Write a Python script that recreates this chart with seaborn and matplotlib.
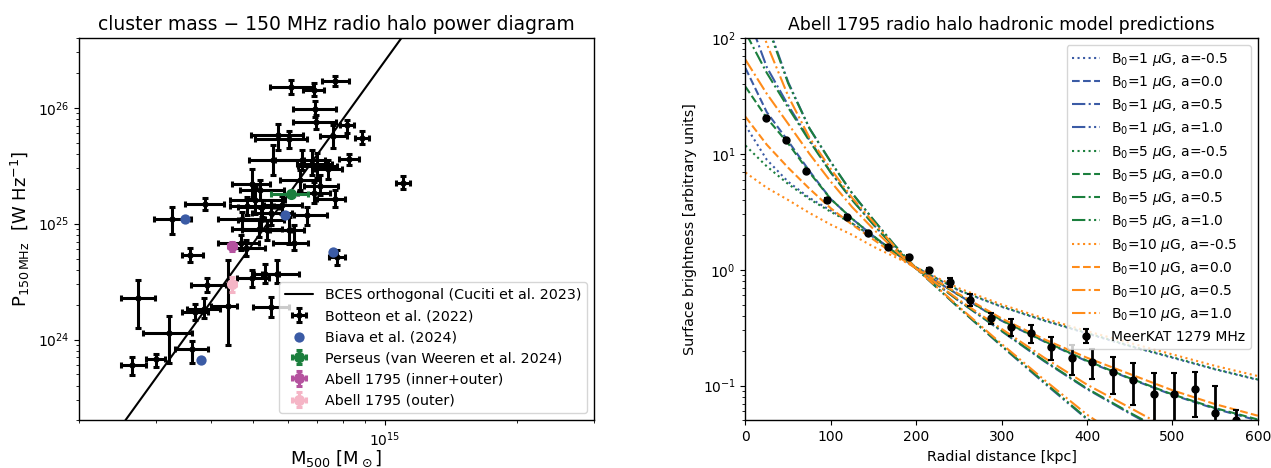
import numpy as np
import matplotlib
matplotlib.use("Agg")
import matplotlib.pyplot as plt
import seaborn as sns

# ---------------- Left panel data ----------------
# M500 in units of 1e14 Msun, P150 in units of 1e24 W/Hz
botteon_m500 = [7.70, 6.10, 6.89, 6.93, 6.95, 8.19, 7.59, 8.86, 5.69, 6.02,
                8.26, 5.56, 6.46, 6.81, 7.41, 10.98, 7.70, 3.88, 3.26, 3.58,
                2.73, 3.21, 3.62, 3.00, 2.64, 3.92, 3.68, 3.85, 4.37, 4.96,
                5.32, 5.66, 5.49, 7.76, 4.82, 4.69, 4.96, 6.63, 4.71, 5.14,
                5.37, 6.02, 5.05, 5.23, 4.85, 6.18, 6.88, 7.11, 5.20, 5.48,
                6.99, 5.18, 5.81, 6.39]
botteon_m500_elo = [0.52, 0.65, 0.40, 0.77, 0.79, 0.29, 0.50, 0.33, 0.75, 0.97,
                    0.43, 0.66, 0.85, 0.52, 0.48, 0.37, 0.70, 0.39, 0.30, 0.15,
                    0.23, 0.41, 0.30, 0.15, 0.14, 0.32, 0.25, 0.33, 0.37, 0.38,
                    0.31, 0.43, 0.49, 0.33, 0.38, 0.53, 0.49, 0.45, 0.55, 0.67,
                    0.66, 0.56, 0.62, 0.61, 0.43, 0.64, 0.57, 0.58, 0.59, 0.52,
                    0.67, 0.52, 0.52, 0.64]
botteon_m500_ehi = [0.56, 0.73, 0.38, 0.81, 0.79, 0.29, 0.60, 0.35, 0.80, 0.61,
                    0.45, 0.96, 0.84, 0.75, 0.56, 0.45, 0.41, 0.40, 0.34, 0.26,
                    0.25, 0.41, 0.32, 0.14, 0.21, 0.41, 0.27, 0.35, 0.21, 0.46,
                    0.39, 0.69, 0.53, 0.35, 0.49, 0.45, 0.50, 0.74, 0.61, 0.67,
                    0.75, 0.50, 0.86, 0.48, 0.72, 0.48, 0.62, 0.69, 0.67, 0.64,
                    0.77, 0.69, 0.65, 0.71]
botteon_p150 = [169.6, 150.5, 143.0, 98.0, 75.1, 70.4, 56.6, 55.1, 57.7, 53.3,
                35.8, 35.1, 35.6, 32.9, 29.8, 22.6, 16.4, 14.9, 10.9, 5.33,
                2.28, 1.13, 0.825, 0.676, 0.600, 2.98, 1.73, 1.85, 1.94, 3.40,
                3.71, 3.71, 1.91, 5.15, 6.18, 6.83, 22.1, 11.8, 11.0, 9.06,
                8.75, 8.75, 15.9, 13.9, 14.2, 6.83, 18.4, 21.1, 10.8, 12.4,
                31.2, 19.4, 14.4, 23.6]
botteon_p150_elo = [17.0, 20.3, 17.8, 15.0, 9.2, 10.0, 11.4, 6.8, 14.9, 8.1,
                    4.0, 9.0, 6.8, 6.8, 5.4, 2.6, 2.5, 1.9, 2.84, 0.64,
                    1.02, 0.505, 0.197, 0.102, 0.108, 0.41, 0.26, 0.33, 1.05, 0.56,
                    0.66, 0.66, 0.34, 0.78, 0.93, 0.85, 5.7, 2.13, 1.94, 1.40,
                    1.57, 2.03, 3.7, 2.5, 2.4, 0.94, 3.4, 3.6, 2.05, 2.73,
                    6.6, 3.5, 2.4, 4.2]
botteon_p150_ehi = [20.2, 23.8, 20.0, 15.3, 10.7, 8.4, 14.8, 7.8, 15.1, 9.6,
                    4.3, 12.2, 7.8, 9.9, 5.3, 3.0, 3.0, 1.7, 3.0, 0.85,
                    0.96, 0.47, 0.148, 0.081, 0.100, 0.42, 0.31, 0.41, 2.89, 0.56,
                    0.81, 1.12, 0.42, 0.74, 1.11, 1.22, 7.7, 2.1, 1.6, 1.94,
                    1.95, 2.65, 4.8, 2.0, 2.7, 2.84, 4.3, 5.0, 2.8, 3.5,
                    9.2, 4.2, 2.8, 5.2]

biava_m500 = [3.50, 5.91, 7.60, 3.80]
biava_p150 = [10.9, 11.95, 5.69, 0.672]

perseus_m500 = [6.09]
perseus_m500_err = [[0.60], [0.58]]
perseus_p150 = [18.1]
perseus_p150_err = [1.0]

a1795_all_m500 = [4.47]
a1795_all_m500_err = [0.09]
a1795_all_p150 = [6.41]
a1795_all_p150_err = [0.6]

a1795_out_m500 = [4.48]
a1795_out_m500_err = [0.09]
a1795_out_p150 = [3.04]
a1795_out_p150_err = [0.45]

# BCES orthogonal relation (Cuciti et al. 2023), end points in M500 [Msun], P150 [W/Hz]
bces_m500 = [2.55e14, 10.9e14]
bces_p150 = [2.0e23, 4.0e26]

# ---------------- Right panel data ----------------
radius = [0, 25, 50, 75, 100, 125, 150, 175, 200, 250, 300, 350, 400, 450, 500, 550, 600]
models = {
    (1, -0.5): [17.6, 8.9, 5.75, 4.17, 3.24, 2.51, 1.91, 1.41, 1.047, 0.661, 0.479, 0.363, 0.282, 0.219, 0.174, 0.138, 0.112],
    (1, 0.0): [55, 22.9, 12.9, 7.1, 4.07, 2.75, 1.95, 1.41, 1.023, 0.603, 0.363, 0.240, 0.162, 0.115, 0.0832, 0.0631, 0.050],
    (1, 0.5): [178, 56, 26.3, 13.2, 6.9, 4.0, 2.45, 1.55, 1.023, 0.537, 0.295, 0.162, 0.0933, 0.0575, 0.0363, 0.024, 0.0158],
    (1, 1.0): [501, 138, 41.7, 16.6, 8.5, 4.57, 2.69, 1.62, 1.023, 0.468, 0.219, 0.105, 0.0513, 0.0282, 0.0158, 0.0093, 0.0056],
    (5, -0.5): [11.8, 7.8, 5.5, 4.07, 3.16, 2.51, 1.91, 1.41, 1.047, 0.665, 0.482, 0.366, 0.285, 0.221, 0.176, 0.139, 0.113],
    (5, 0.0): [38, 20.4, 12.3, 6.9, 4.07, 2.75, 1.95, 1.41, 1.023, 0.605, 0.366, 0.242, 0.164, 0.116, 0.0840, 0.0640, 0.051],
    (5, 0.5): [112, 50, 25.1, 12.9, 6.9, 4.0, 2.45, 1.55, 1.023, 0.540, 0.298, 0.164, 0.0945, 0.0585, 0.0370, 0.0245, 0.0162],
    (5, 1.0): [447, 132, 40.7, 16.6, 8.5, 4.57, 2.69, 1.62, 1.023, 0.470, 0.221, 0.107, 0.0520, 0.0287, 0.0161, 0.0095, 0.0057],
    (10, -0.5): [6.9, 5.1, 4.0, 3.09, 2.45, 2.0, 1.58, 1.29, 1.047, 0.692, 0.501, 0.380, 0.295, 0.234, 0.186, 0.148, 0.121],
    (10, 0.0): [20.9, 12.0, 7.6, 5.0, 3.39, 2.45, 1.82, 1.35, 1.023, 0.617, 0.380, 0.251, 0.174, 0.126, 0.0912, 0.0692, 0.055],
    (10, 0.5): [65, 33, 18.2, 10, 5.75, 3.47, 2.24, 1.48, 1.023, 0.550, 0.309, 0.174, 0.102, 0.0646, 0.0407, 0.0269, 0.0182],
    (10, 1.0): [316, 89, 31.6, 13.8, 7.4, 4.17, 2.57, 1.58, 1.023, 0.479, 0.229, 0.112, 0.0562, 0.0316, 0.0182, 0.011, 0.0068],
}
b0_values = [1, 5, 10]
a_values = [-0.5, 0.0, 0.5, 1.0]

meerkat_r = [23.8, 47.6, 71, 95, 119, 143, 167, 191, 215, 239, 263, 287, 311, 335,
             358, 382, 406, 430, 454, 478, 502, 526, 550, 574]
meerkat_s = [20.5, 13.3, 7.05, 4.03, 2.87, 2.08, 1.58, 1.29, 1.0, 0.78, 0.55, 0.38,
             0.32, 0.285, 0.214, 0.174, 0.16, 0.131, 0.112, 0.085, 0.085, 0.093, 0.058, 0.05]
meerkat_err = [0.5, 0.4, 0.25, 0.15, 0.1, 0.07, 0.05, 0.05, 0.04, 0.065, 0.063, 0.04,
               0.053, 0.05, 0.048, 0.05, 0.046, 0.047, 0.044, 0.043, 0.043, 0.039, 0.042, 0.012]

# ---------------- Style ----------------
sns.set_style("ticks", {"axes.edgecolor": "black", "xtick.color": "black",
                        "ytick.color": "black", "axes.labelcolor": "black",
                        "text.color": "black"})
plt.rcParams["font.family"] = ["DejaVu Sans"]
plt.rcParams["mathtext.fontset"] = "dejavusans"
plt.rcParams["axes.linewidth"] = 1.0
plt.rcParams["xtick.direction"] = "out"
plt.rcParams["ytick.direction"] = "out"
plt.rcParams["xtick.major.size"] = 3.5
plt.rcParams["ytick.major.size"] = 3.5
plt.rcParams["xtick.minor.size"] = 2
plt.rcParams["ytick.minor.size"] = 2
plt.rcParams["xtick.labelsize"] = 10
plt.rcParams["ytick.labelsize"] = 10

C_BLUE = "#3b5ba5"
C_GREEN = "#1b7f3d"
C_ORANGE = "#ff8c1a"
C_MAGENTA = "#b5529f"
C_PINK = "#f5b5c6"

fig = plt.figure(figsize=(12.71, 4.68), dpi=100)
axL = fig.add_axes([0.0622, 0.1015, 0.4051, 0.8173])
axR = fig.add_axes([0.5865, 0.1015, 0.4031, 0.8173])

# ---------------- Left panel ----------------
E14, E24 = 1e14, 1e24
axL.set_xscale("log")
axL.set_yscale("log")

sns.lineplot(x=bces_m500, y=bces_p150, ax=axL, color="black", lw=1.5,
             estimator=None, sort=False, label="BCES orthogonal (Cuciti et al. 2023)")
line_bces = axL.lines[-1]

bm = np.array(botteon_m500) * E14
bp = np.array(botteon_p150) * E24
h_bot = axL.errorbar(bm, bp,
                     xerr=[np.array(botteon_m500_elo) * E14, np.array(botteon_m500_ehi) * E14],
                     yerr=[np.array(botteon_p150_elo) * E24, np.array(botteon_p150_ehi) * E24],
                     fmt="o", color="black", ms=3.5, elinewidth=2.2, capsize=2, capthick=2.2,
                     label="Botteon et al. (2022)", zorder=3)

sns.scatterplot(x=np.array(biava_m500) * E14, y=np.array(biava_p150) * E24, ax=axL,
                color=C_BLUE, s=55, linewidth=0, label="Biava et al. (2024)", zorder=4)
h_biava = axL.collections[-1]

h_per = axL.errorbar(np.array(perseus_m500) * E14, np.array(perseus_p150) * E24,
                     xerr=np.array(perseus_m500_err) * E14, yerr=np.array(perseus_p150_err) * E24,
                     fmt="o", color=C_GREEN, ms=7, elinewidth=2.2, capsize=2, capthick=2.2,
                     label="Perseus (van Weeren et al. 2024)", zorder=5)
h_all = axL.errorbar(np.array(a1795_all_m500) * E14, np.array(a1795_all_p150) * E24,
                     xerr=np.array(a1795_all_m500_err) * E14, yerr=np.array(a1795_all_p150_err) * E24,
                     fmt="o", color=C_MAGENTA, ms=7, elinewidth=2.2, capsize=2, capthick=2.2,
                     label="Abell 1795 (inner+outer)", zorder=5)
h_out = axL.errorbar(np.array(a1795_out_m500) * E14, np.array(a1795_out_p150) * E24,
                     xerr=np.array(a1795_out_m500_err) * E14, yerr=np.array(a1795_out_p150_err) * E24,
                     fmt="o", color=C_PINK, ms=7, elinewidth=2.2, capsize=2, capthick=2.2,
                     label="Abell 1795 (outer)", zorder=5)

axL.set_xlim(2e14, 3e15)
axL.set_ylim(2e23, 4e26)
axL.set_title("cluster mass \u2212 150 MHz radio halo power diagram", fontsize=13.5)
axL.set_xlabel(r"M$_{500}$ [M$_\odot$]", fontsize=13, labelpad=0)
axL.set_ylabel(r"P$_{150\,\mathrm{MHz}}$  [W Hz$^{-1}$]", fontsize=13)
axL.legend([line_bces, h_bot, h_biava, h_per, h_all, h_out],
           ["BCES orthogonal (Cuciti et al. 2023)", "Botteon et al. (2022)",
            "Biava et al. (2024)", "Perseus (van Weeren et al. 2024)",
            "Abell 1795 (inner+outer)", "Abell 1795 (outer)"],
           loc="lower right", fontsize=10.3)

# ---------------- Right panel ----------------
axR.set_yscale("log")
colors = {1: C_BLUE, 5: C_GREEN, 10: C_ORANGE}
styles = {-0.5: ":", 0.0: "--", 0.5: "-.", 1.0: (0, (6.4, 1.6, 1, 1.6, 1, 1.6))}
handles, labels = [], []
for b0 in b0_values:
    for a in a_values:
        lab = r"B$_0$=%d $\mu$G, a=%.1f" % (b0, a)
        sns.lineplot(x=radius, y=models[(b0, a)], ax=axR, color=colors[b0], lw=1.5,
                     estimator=None, sort=False)
        ln = axR.lines[-1]
        ln.set_linestyle(styles[a])
        handles.append(ln)
        labels.append(lab)

h_mk = axR.errorbar(meerkat_r, meerkat_s, yerr=meerkat_err, fmt="o", color="black",
                    ms=5, elinewidth=2, capsize=2.5, capthick=1.5, zorder=5)
handles.append(h_mk)
labels.append("MeerKAT 1279 MHz")

axR.set_xlim(0, 600)
axR.set_ylim(0.05, 100)
axR.set_xticks([0, 100, 200, 300, 400, 500, 600])
axR.set_title("Abell 1795 radio halo hadronic model predictions", fontsize=12.4)
axR.set_xlabel("Radial distance [kpc]", fontsize=10.3)
axR.set_ylabel("Surface brightness [arbitrary units]", fontsize=10.3)
axR.legend(handles, labels, loc="upper right", fontsize=10, labelspacing=0.45)

fig.savefig("out.png", dpi=100)
